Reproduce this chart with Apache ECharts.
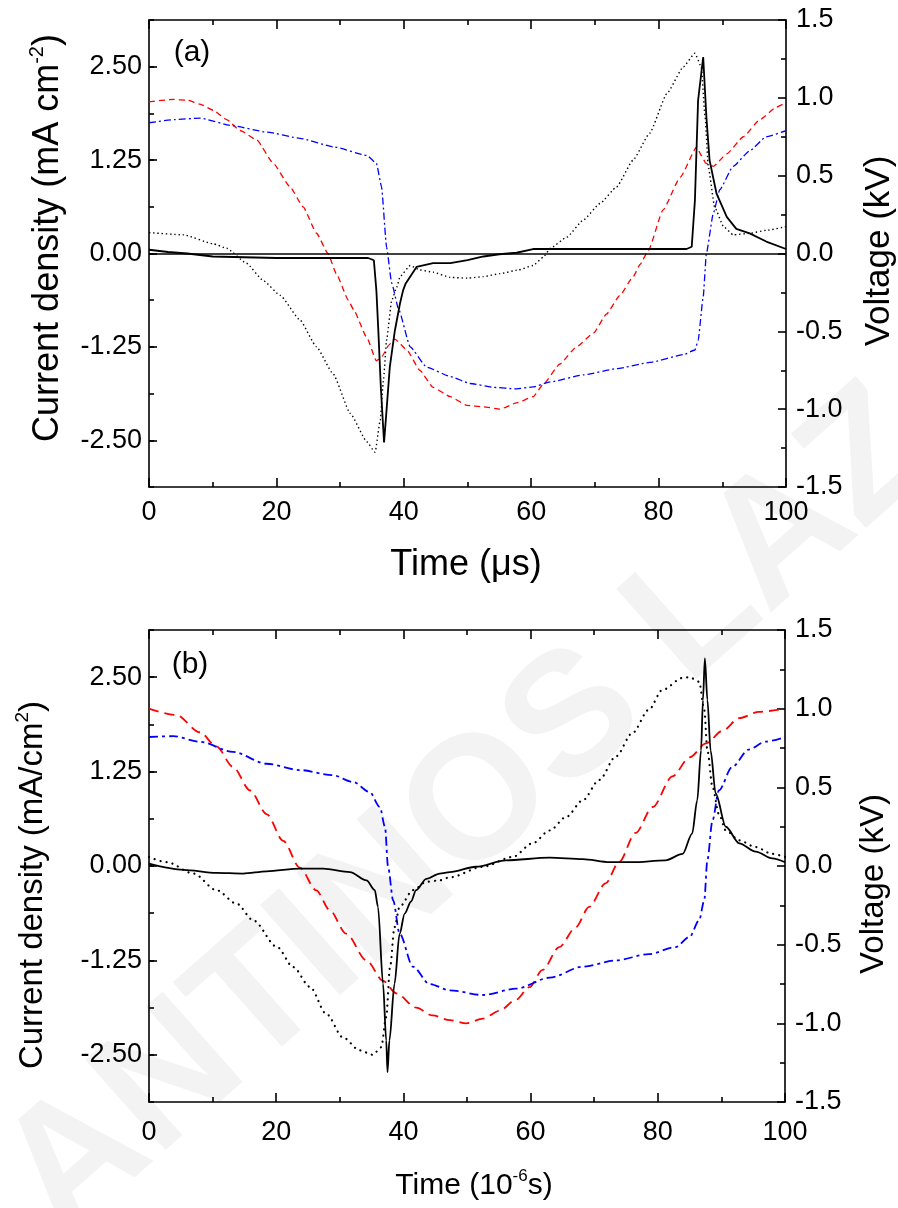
<!DOCTYPE html>
<html><head><meta charset="utf-8">
<script src="https://cdn.jsdelivr.net/npm/echarts@6/dist/echarts.min.js"></script>
<style>html,body{margin:0;padding:0;background:#fff}#c{width:898px;height:1208px}</style>
</head><body><div id="c"></div>
<script>
// ---------- tick labels ----------
const currentTicks = [-2.5, -1.25, 0, 1.25, 2.5];

// ---------- panel (a) : [time (us), value] ----------
const aCurrent = [[0,0.05],[3,0.02],[6,0.0],[10,-0.04],[15,-0.05],[20,-0.06],[25,-0.06],[30,-0.06],[34.4,-0.06],[35.3,-0.09],[35.7,-0.5],[36.0,-1.03],[36.4,-1.8],[36.9,-2.53],[37.2,-2.2],[37.8,-1.52],[38.6,-1.03],[39.4,-0.67],[39.9,-0.49],[40.3,-0.4],[42,-0.18],[44.6,-0.13],[47.3,-0.13],[50,-0.09],[52.5,-0.04],[55,-0.01],[57.7,0.01],[60.3,0.06],[65,0.06],[70,0.06],[75,0.06],[80,0.06],[84.4,0.06],[85.2,0.09],[85.7,0.71],[86.2,2.05],[87.0,2.63],[87.5,1.83],[88.0,1.25],[89.1,0.80],[90.7,0.49],[92.2,0.33],[94.3,0.27],[96.9,0.16],[100,0.06]];
const aCurrentCalc = [[0,0.28],[5.4,0.25],[10.1,0.13],[12.2,0.07],[15.3,-0.13],[17.9,-0.36],[20.6,-0.56],[23.7,-0.89],[26.3,-1.25],[28.9,-1.61],[31.6,-2.14],[34.2,-2.52],[35.5,-2.66],[36.3,-2.23],[36.8,-1.70],[37.3,-1.16],[38.1,-0.63],[38.9,-0.45],[39.4,-0.31],[41,-0.16],[42.5,-0.22],[44.6,-0.25],[47.3,-0.32],[50,-0.33],[52.5,-0.31],[55.1,-0.27],[58,-0.22],[60.3,-0.16],[61.9,-0.05],[63,0.07],[65.6,0.22],[68.2,0.45],[70.8,0.67],[73.4,0.89],[76,1.25],[78.6,1.61],[81.3,2.14],[83.9,2.50],[85.7,2.68],[86.7,2.50],[87.3,1.83],[87.8,1.16],[88.8,0.62],[90.2,0.36],[91.7,0.25],[94.3,0.27],[96.9,0.31],[100,0.36]];
const aAppliedV = [[0,0.974],[3.8,0.99],[6,0.985],[8,0.96],[10.1,0.92],[12.2,0.86],[14.3,0.79],[16.9,0.73],[19.5,0.58],[22.1,0.43],[24.2,0.30],[26.3,0.13],[28.1,0.0],[29.4,-0.13],[31.3,-0.30],[32.1,-0.36],[34.2,-0.54],[35.7,-0.69],[36.6,-0.66],[37.6,-0.59],[38.6,-0.55],[40.5,-0.62],[42.5,-0.75],[44.6,-0.86],[47.3,-0.92],[49.9,-0.975],[52.5,-0.985],[55.1,-1.0],[57.7,-0.96],[60.3,-0.92],[61.9,-0.84],[64.5,-0.71],[67.1,-0.60],[69.8,-0.51],[71.8,-0.39],[73.9,-0.27],[76,-0.15],[77.1,-0.07],[78.4,0.02],[80.7,0.28],[83.4,0.49],[86,0.685],[86.7,0.63],[87.4,0.58],[88.6,0.56],[90.7,0.64],[93.3,0.75],[95.9,0.86],[98.5,0.94],[100,0.97]];
const aGapV = [[0,0.84],[4,0.86],[8,0.87],[13.2,0.82],[18.5,0.78],[23.7,0.74],[29,0.685],[34.2,0.63],[35.7,0.58],[36.5,0.43],[37.3,0.04],[38.1,-0.19],[39.2,-0.36],[41,-0.60],[43.6,-0.73],[47.3,-0.79],[50.4,-0.835],[54.1,-0.86],[57.7,-0.87],[60.3,-0.857],[63,-0.825],[68.2,-0.78],[73.4,-0.74],[78.6,-0.70],[83.9,-0.65],[85.7,-0.62],[86.2,-0.56],[87,-0.28],[87.5,0.0],[88.6,0.26],[89.6,0.41],[91.7,0.56],[94.3,0.66],[96.9,0.75],[100,0.79]];

// ---------- panel (b) : [time (1e-6 s), value] ----------
const bCurrent = [[0,0.03],[5.4,-0.05],[10.6,-0.09],[14.8,-0.10],[18.5,-0.07],[23.7,-0.035],[27.4,-0.035],[31.6,-0.08],[34.2,-0.19],[35.5,-0.32],[36,-0.54],[36.8,-1.56],[37.3,-2.31],[37.5,-2.73],[37.8,-2.31],[38.6,-1.56],[39.4,-0.90],[40.2,-0.63],[41.2,-0.47],[42,-0.32],[43.6,-0.17],[45.7,-0.10],[47.3,-0.08],[51.4,-0.01],[56.1,0.075],[63,0.11],[68.2,0.09],[72.4,0.05],[76,0.05],[81.2,0.075],[83.9,0.16],[85.4,0.43],[86.2,0.87],[86.8,1.53],[87.1,2.20],[87.4,2.75],[87.8,2.20],[88.3,1.53],[89.1,0.96],[90.7,0.52],[92.8,0.30],[95.4,0.19],[98,0.10],[100,0.05]];
const bCurrentCalc = [[0,0.12],[2.8,0.05],[7,-0.10],[10.6,-0.32],[13.8,-0.50],[16.4,-0.72],[20.1,-1.07],[22.7,-1.34],[25.3,-1.60],[27.9,-1.96],[30.5,-2.27],[33.1,-2.44],[35.2,-2.50],[36.5,-2.40],[37.3,-2.00],[37.9,-1.34],[38.6,-0.81],[39.4,-0.54],[41.5,-0.32],[43.6,-0.21],[45.7,-0.19],[47.3,-0.15],[52.5,-0.01],[57.2,0.12],[60.3,0.30],[63,0.47],[65.6,0.65],[68.2,0.87],[70.8,1.14],[73.4,1.45],[76,1.76],[78.6,2.07],[80.7,2.33],[83.9,2.49],[85,2.50],[86.5,2.44],[87.3,2.07],[87.8,1.53],[88.6,1.05],[89.6,0.69],[90.7,0.47],[92.8,0.34],[95.4,0.25],[98,0.16],[100,0.12]];
const bAppliedV = [[0,1.0],[4.3,0.96],[8,0.85],[10.6,0.76],[13.2,0.63],[15.9,0.48],[18.5,0.33],[21.1,0.16],[23.7,-0.01],[26.3,-0.155],[28.4,-0.28],[31,-0.43],[34.2,-0.60],[36.8,-0.73],[38.9,-0.81],[42,-0.90],[44.6,-0.95],[47.3,-0.98],[49.9,-1.0],[52.5,-0.97],[55.1,-0.92],[57.7,-0.85],[59.8,-0.77],[61.9,-0.66],[64.5,-0.515],[67.1,-0.39],[69.2,-0.26],[71.8,-0.11],[73.9,0.025],[76.5,0.21],[79.2,0.375],[82.3,0.57],[85,0.69],[87.6,0.78],[90.2,0.86],[92.8,0.94],[95.9,0.98],[100,1.0]];
const bGapV = [[0,0.82],[3.8,0.825],[8,0.79],[13.2,0.725],[18.5,0.65],[23.7,0.61],[28.9,0.577],[32.1,0.534],[34.7,0.47],[36.3,0.375],[37.1,0.25],[37.6,-0.01],[38.4,-0.22],[39.4,-0.43],[41.5,-0.64],[44.1,-0.75],[47.3,-0.79],[52.5,-0.82],[57.7,-0.78],[63,-0.71],[68.2,-0.64],[73.4,-0.60],[78.6,-0.56],[82.8,-0.515],[85,-0.45],[86.5,-0.345],[87.3,-0.22],[87.8,0.04],[88.6,0.29],[89.6,0.48],[91.7,0.63],[94.3,0.74],[96.9,0.79],[100,0.82]];

const FONT = "'Liberation Sans', Arial, sans-serif";
const BLK = '#000';
const AXW = 1.6;

function xAx(g, pos, margin) {
  return {
    gridIndex: g, type: 'value', min: 0, max: 100, interval: 20, position: pos,
    axisLine: { show: true, onZero: false, lineStyle: { color: BLK, width: AXW } },
    axisTick: { show: true, inside: true, length: 9, lineStyle: { color: BLK, width: AXW } },
    minorTick: { show: true, splitNumber: 2, length: 5, lineStyle: { color: BLK, width: AXW } },
    splitLine: { show: false }, minorSplitLine: { show: false },
    axisLabel: { show: pos === 'bottom', color: BLK, fontFamily: FONT, fontSize: 27, margin: margin }
  };
}
function yCur(g) {
  return {
    gridIndex: g, type: 'value', min: -3.125, max: 3.125, interval: 0.625, position: 'left',
    axisLine: { show: true, onZero: false, lineStyle: { color: BLK, width: AXW } },
    axisTick: { show: true, inside: true, length: 8, customValues: currentTicks, lineStyle: { color: BLK, width: AXW } },
    axisLabel: { show: true, customValues: currentTicks, formatter: v => Number(v).toFixed(2), color: BLK, fontFamily: FONT, fontSize: 27, margin: 7 },
    splitLine: { show: false }
  };
}
function yCurMinor(g) {
  return {
    gridIndex: g, type: 'value', min: -3.125, max: 3.125, interval: 0.625, position: 'left',
    axisLine: { show: false, onZero: false },
    axisTick: { show: true, inside: true, length: 5, lineStyle: { color: BLK, width: AXW } },
    axisLabel: { show: false }, splitLine: { show: false }
  };
}
function yVolt(g) {
  return {
    gridIndex: g, type: 'value', min: -1.5, max: 1.5, interval: 0.5, position: 'right',
    axisLine: { show: true, onZero: false, lineStyle: { color: BLK, width: AXW } },
    axisTick: { show: true, inside: true, length: 8, lineStyle: { color: BLK, width: AXW } },
    minorTick: { show: true, splitNumber: 2, length: 5, lineStyle: { color: BLK, width: AXW } },
    axisLabel: { show: true, formatter: v => Number(v).toFixed(1), color: BLK, fontFamily: FONT, fontSize: 27, margin: 10 },
    splitLine: { show: false }, minorSplitLine: { show: false }
  };
}
function line(name, data, xi, yi, lineStyle, smooth, z, extra) {
  return Object.assign({
    name, type: 'line', xAxisIndex: xi, yAxisIndex: yi, data,
    showSymbol: false, symbol: 'none', smooth: smooth, smoothMonotone: 'x',
    lineStyle: lineStyle, silent: true, animation: false, z: z
  }, extra || {});
}

const rich = (big, small) => ({
  m: { fontSize: big, fontFamily: FONT, fill: BLK, lineHeight: big + 6 },
  s: { fontSize: small, fontFamily: FONT, fill: BLK, lineHeight: small, verticalAlign: 'top' }
});

const chart = echarts.init(document.getElementById('c'), null, { renderer: 'canvas' });
chart.setOption({
  backgroundColor: '#ffffff',
  animation: false,
  grid: [
    { left: 149, top: 20, width: 637, height: 467, containLabel: false, outerBoundsMode: 'none' },
    { left: 149, top: 630, width: 636, height: 472, containLabel: false, outerBoundsMode: 'none' }
  ],
  xAxis: [xAx(0, 'bottom', 12), xAx(0, 'top', 12), xAx(1, 'bottom', 17), xAx(1, 'top', 17)],
  yAxis: [yCur(0), yVolt(0), yCur(1), yVolt(1), yCurMinor(0), yCurMinor(1)],
  graphic: [
    { type: 'text', x: 470, y: 815, rotation: 0.726, z: -10, silent: true,
      style: { text: 'ANTINOS LAZ', fontSize: 175, fontWeight: 'bold', fontFamily: FONT, fill: '#f3f3f3', align: 'center', verticalAlign: 'middle' } },
    { type: 'text', x: 48, y: 238, rotation: Math.PI / 2, z: 10,
      style: { text: '{m|Current density (mA cm}{s|-2}{m|)}', rich: rich(36, 20), align: 'center', verticalAlign: 'middle' } },
    { type: 'text', x: 879, y: 251, rotation: Math.PI / 2, z: 10,
      style: { text: 'Voltage (kV)', fontSize: 35, fontFamily: FONT, fill: BLK, align: 'center', verticalAlign: 'middle' } },
    { type: 'text', x: 466, y: 565, z: 10,
      style: { text: 'Time (\u03bcs)', fontSize: 36, fontFamily: FONT, fill: BLK, align: 'center', verticalAlign: 'middle' } },
    { type: 'text', x: 192, y: 53, z: 10,
      style: { text: '(a)', fontSize: 30, fontFamily: FONT, fill: BLK, align: 'center', verticalAlign: 'middle' } },
    { type: 'text', x: 33, y: 885, rotation: Math.PI / 2, z: 10,
      style: { text: '{m|Current density (mA/cm}{s|2}{m|)}', rich: rich(33, 19), align: 'center', verticalAlign: 'middle' } },
    { type: 'text', x: 874, y: 884, rotation: Math.PI / 2, z: 10,
      style: { text: 'Voltage (kV)', fontSize: 33, fontFamily: FONT, fill: BLK, align: 'center', verticalAlign: 'middle' } },
    { type: 'text', x: 474, y: 1186, z: 10,
      style: { text: '{m|Time (10}{s|-6}{m|s)}', rich: rich(30, 17), align: 'center', verticalAlign: 'middle' } },
    { type: 'text', x: 190, y: 665, z: 10,
      style: { text: '(b)', fontSize: 30, fontFamily: FONT, fill: BLK, align: 'center', verticalAlign: 'middle' } }
  ],
  series: [
    line('Applied voltage (a)', aAppliedV, 0, 1, { color: '#ff0000', width: 1.3, type: [6, 4] }, 0.15, 3),
    line('Gap voltage (a)', aGapV, 0, 1, { color: '#0000ff', width: 1.3, type: [7, 3, 2, 3] }, 0.15, 3),
    line('Calculated current (a)', aCurrentCalc, 0, 0, { color: BLK, width: 1.4, type: [1.4, 2.8] }, 0.15, 4),
    line('Current density (a)', aCurrent, 0, 0, { color: BLK, width: 1.8, type: 'solid' }, false, 5, {
      markLine: { silent: true, symbol: 'none', animation: false, label: { show: false },
        lineStyle: { color: BLK, width: 1.5, type: 'solid' }, data: [{ yAxis: 0 }] }
    }),
    line('Applied voltage (b)', bAppliedV, 2, 3, { color: '#ff0000', width: 1.8, type: [10, 6] }, 0.3, 3),
    line('Gap voltage (b)', bGapV, 2, 3, { color: '#0000ff', width: 1.8, type: [9, 4, 3, 4] }, 0.3, 3),
    line('Calculated current (b)', bCurrentCalc, 2, 2, { color: BLK, width: 2.2, type: [0.1, 6], cap: 'round' }, 0.3, 4),
    line('Current density (b)', bCurrent, 2, 2, { color: BLK, width: 1.8, type: 'solid' }, 0.3, 5)
  ]
});
</script></body></html>
